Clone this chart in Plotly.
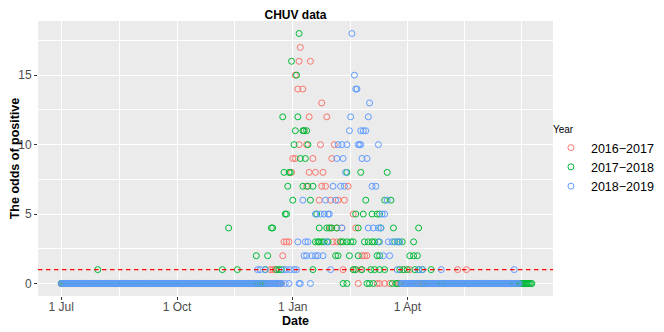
import pandas as pd
import plotly.graph_objects as go

# days are counted from 1 July of each season
BASE = pd.Timestamp("2015-07-01")

years = ["2016\u22122017", "2017\u22122018", "2018\u22122019"]
colors = ["#F8766D", "#00BA38", "#619CFF"]

# 2016-2017
red_days = [190, 189, 198, 186, 188, 192, 207, 197, 211, 193,
            189, 195, 206, 217, 184, 186, 200, 215, 183, 197, 202, 208,
            195, 207, 210, 228, 205, 214, 220, 225, 232,
            214, 219, 223, 234, 177, 179, 181, 216, 219, 222,
            176, 239, 241, 243,
            166, 168, 170, 224, 233, 238, 272, 277, 315, 322]
red_vals = [17, 16, 16, 15, 14, 14, 13, 12, 12, 11,
            10, 10, 10, 10, 9, 9, 9, 9, 8, 8, 8, 8,
            7, 7, 7, 7, 6, 6, 6, 6, 5,
            4, 4, 4, 4, 3, 3, 3, 3, 3, 3,
            2, 2, 2, 2,
            1, 1, 1, 1, 1, 1, 1, 1, 1, 1]
red_zero_spans = [(0, 175), (268, 365)]
red_zero_days = [236, 251, 253, 257, 261]

# 2017-2018
green_days = [189, 183, 187, 176, 188, 186, 192, 193, 195,
              185, 196, 190, 194,
              177, 181, 182, 227, 238, 259,
              180, 192, 196, 200,
              184, 198, 242, 257, 262,
              178, 179, 203, 234, 240, 247, 251, 253,
              133, 167, 168, 205, 211, 213, 215, 219, 236, 254, 264, 284,
              202, 204, 205, 207, 209, 212, 222, 224, 227, 230, 232, 241,
              244, 247, 249, 252, 265, 268, 271, 280,
              155, 164, 218, 220, 229, 236, 251, 253, 277, 280, 283,
              29, 128, 140, 162, 171, 173, 175, 200, 232, 234, 239, 246,
              249, 253, 257, 269, 272, 275, 281, 284, 287, 294]
green_vals = [18, 16, 15, 12, 12, 11, 11, 11, 11,
              10, 10, 9, 9,
              8, 8, 8, 8, 8, 8,
              7, 7, 7, 7,
              6, 6, 6, 6, 6,
              5, 5, 5, 5, 5, 5, 5, 5,
              4, 4, 4, 4, 4, 4, 4, 4, 4, 4, 4, 4,
              3, 3, 3, 3, 3, 3, 3, 3, 3, 3, 3, 3,
              3, 3, 3, 3, 3, 3, 3, 3,
              2, 2, 2, 2, 2, 2, 2, 2, 2, 2, 2,
              1, 1, 1, 1, 1, 1, 1, 1, 1, 1, 1, 1,
              1, 1, 1, 1, 1, 1, 1, 1, 1, 1]
green_zero_spans = [(0, 174), (265, 374)]
green_zero_days = [155, 224, 227, 243, 245, 248, 263]

# 2018-2019
blue_days = [231, 233, 234, 235, 245, 230, 244, 229, 238, 240, 242,
             220, 223, 227, 236, 237, 238, 252,
             219, 224, 239, 243, 226,
             216, 222, 225, 247, 250,
             192, 210, 218, 259,
             202, 206, 209, 212, 213, 255, 257,
             223, 244, 248, 252, 254,
             188, 194, 196, 211, 253, 260, 263, 267, 269,
             193, 195, 199, 202, 204, 208, 256, 261,
             156, 158, 162, 177, 179, 182, 185, 187, 214, 267, 284, 287,
             302, 360]
blue_vals = [18, 15, 14, 14, 13, 12, 12, 11, 11, 11, 11,
             10, 10, 10, 10, 10, 10, 10,
             9, 9, 9, 9, 8,
             7, 7, 7, 7, 7,
             6, 6, 6, 6,
             5, 5, 5, 5, 5, 5, 5,
             4, 4, 4, 4, 4,
             3, 3, 3, 3, 3, 3, 3, 3, 3,
             2, 2, 2, 2, 2, 2, 2, 2,
             1, 1, 1, 1, 1, 1, 1, 1, 1, 1, 1, 1,
             1, 1]
blue_zero_spans = [(0, 175), (269, 364)]
blue_zero_days = [178, 181, 189, 190, 198]

major_days = [0, 92, 184, 275]
major_labels = ["1 Jul", "1 Oct", "1 Jan", "1 Apt"]
minor_days = [46, 138, 229.5, 320.5, 366]


def to_dates(days):
    return [BASE + pd.Timedelta(days=d) for d in days]


def season(days, vals, zero_spans, zero_days):
    taken = set(days)
    zeros = [d for a, b in zero_spans for d in range(a, b + 1) if d not in taken]
    zeros += zero_days
    return to_dates(zeros + days), [0] * len(zeros) + vals


fig = go.Figure()
series = [
    (red_days, red_vals, red_zero_spans, red_zero_days),
    (green_days, green_vals, green_zero_spans, green_zero_days),
    (blue_days, blue_vals, blue_zero_spans, blue_zero_days),
]
for name, color, (d, v, spans, zd) in zip(years, colors, series):
    x, y = season(d, v, spans, zd)
    fig.add_trace(go.Scatter(
        x=x, y=y, mode="markers", name=name,
        marker=dict(symbol="circle-open", size=6, color=color,
                    line=dict(width=1, color=color)),
    ))

fig.add_hline(y=1, line_color="#FF0000", line_width=1.3, line_dash="4.5px,3.5px")

# the page body adds an 8px offset, so the figure is 8px smaller than the window
fig.update_layout(
    width=656, height=324,
    margin=dict(l=30, r=111, t=13, b=36, autoexpand=False),
    plot_bgcolor="#EBEBEB", paper_bgcolor="white",
    font=dict(family="Liberation Sans, Arial, sans-serif", size=12, color="black"),
    title=dict(text="<b>CHUV data</b>", x=0.5, xref="paper", xanchor="center",
               y=1 - 7 / 324, yref="container", yanchor="middle",
               font=dict(size=12)),
    legend=dict(title=dict(text="Year", font=dict(size=10)), font=dict(size=12.5),
                x=0.996, xanchor="left", y=0.64, yanchor="top",
                bgcolor="rgba(0,0,0,0)", tracegroupgap=0),
    showlegend=True,
)
fig.update_xaxes(
    type="date", automargin=False,
    range=[BASE - pd.Timedelta(days=18.5), BASE + pd.Timedelta(days=390.8)],
    tickmode="array", tickvals=to_dates(major_days), ticktext=major_labels,
    ticks="outside", ticklen=3, tickcolor="#333333", tickwidth=1,
    tickfont=dict(size=12, color="#4D4D4D"), ticklabelstandoff=-3,
    showgrid=True, gridcolor="white", gridwidth=1.1, zeroline=False, showline=False,
    minor=dict(tickmode="array", tickvals=to_dates(minor_days), showgrid=True,
               gridcolor="white", gridwidth=0.55, ticks=""),
    title=dict(text="<b>Date</b>", font=dict(size=12.5), standoff=1),
)
fig.update_yaxes(
    automargin=False,
    range=[-0.9, 18.9],
    tickmode="array", tickvals=[0, 5, 10, 15],
    ticks="outside", ticklen=3, tickcolor="#333333", tickwidth=1,
    tickfont=dict(size=12, color="#4D4D4D"),
    showgrid=True, gridcolor="white", gridwidth=1.1, zeroline=False, showline=False,
    minor=dict(tickmode="array", tickvals=[2.5, 7.5, 12.5, 17.5], showgrid=True,
               gridcolor="white", gridwidth=0.55, ticks=""),
    title=dict(text="<b>The odds of positive</b>", font=dict(size=12.5), standoff=1),
)

fig.write_html("out.html")
